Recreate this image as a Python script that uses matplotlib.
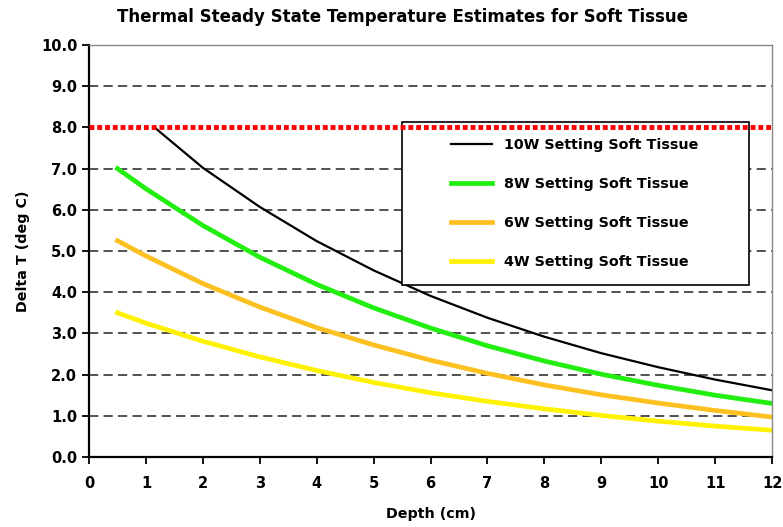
import matplotlib
matplotlib.use("Agg")
import matplotlib.pyplot as plt
from matplotlib.patches import Rectangle

plt.rcParams['font.family'] = ['DejaVu Sans']
plt.rcParams['font.weight'] = 'bold'

# values
depth = [0.5, 1, 2, 3, 4, 5, 6, 7, 8, 9, 10, 11, 12]
depth_10w = [1.15, 2, 3, 4, 5, 6, 7, 8, 9, 10, 11, 12]
temp_10w = [8.0, 7.02, 6.07, 5.24, 4.53, 3.91, 3.38, 2.92, 2.52, 2.18, 1.88, 1.62]
temp_8w = [7.0, 6.51, 5.62, 4.85, 4.19, 3.62, 3.13, 2.70, 2.33, 2.01, 1.74, 1.50, 1.30]
temp_6w = [5.25, 4.88, 4.21, 3.64, 3.14, 2.72, 2.35, 2.03, 1.75, 1.51, 1.31, 1.13, 0.97]
temp_4w = [3.5, 3.25, 2.81, 2.43, 2.10, 1.81, 1.56, 1.35, 1.17, 1.01, 0.87, 0.75, 0.65]
limit = 8.0

x_ticks = list(range(0, 13))
y_ticks = [0, 1, 2, 3, 4, 5, 6, 7, 8, 9, 10]

fig = plt.figure(figsize=(7.83, 5.27), dpi=100)
ax = fig.add_axes([0.1137, 0.1328, 0.8723, 0.7818])

# dashed grid
for yv in y_ticks[1:-1]:
    if yv == limit:
        continue
    ax.axhline(yv, color='#222222', lw=1.1, linestyle=(0, (6, 3.5)), zorder=1)

ax.plot(depth_10w, temp_10w, color='black', lw=1.6, zorder=2, label='10W Setting Soft Tissue')
ax.plot(depth, temp_8w, color='#22ee10', lw=3.4, zorder=2, label='8W Setting Soft Tissue')
ax.plot(depth, temp_6w, color='#fcc020', lw=3.4, zorder=2, label='6W Setting Soft Tissue')
ax.plot(depth, temp_4w, color='#fff200', lw=3.4, zorder=2, label='4W Setting Soft Tissue')

# legend box sits behind the red limit line
box = Rectangle((0.458, 0.417), 0.508, 0.396, transform=ax.transAxes,
                facecolor='white', edgecolor='black', lw=1.2, zorder=3)
ax.add_patch(box)
leg = ax.legend(loc='center', bbox_to_anchor=(0.711, 0.615), frameon=False,
                fontsize=10.3, handlelength=2.9, labelspacing=1.75, handletextpad=0.8)
leg.set_zorder(4)

ax.axhline(limit, color='#ff0000', lw=3.5, linestyle=(0, (1, 0.6)), zorder=5)

ax.set_xlim(0, 12)
ax.set_ylim(0, 10)
ax.set_xticks(x_ticks)
ax.set_yticks(y_ticks)
ax.set_yticklabels(['%.1f' % v for v in y_ticks])
ax.tick_params(axis='both', labelsize=10.5, length=5, width=1.3, color='black')
ax.tick_params(axis='x', pad=9)

for s in ['left', 'bottom']:
    ax.spines[s].set_linewidth(1.6)
    ax.spines[s].set_color('black')
for s in ['top', 'right']:
    ax.spines[s].set_linewidth(1.0)
    ax.spines[s].set_color('#888888')

fig.text(0.514, 0.967, 'Thermal Steady State Temperature Estimates for Soft Tissue',
         fontsize=12, fontweight='bold', ha='center', va='center')
ax.set_xlabel('Depth (cm)', fontsize=10.3, fontweight='bold', labelpad=11)
ax.set_ylabel('Delta T (deg C)', fontsize=10.3, fontweight='bold', labelpad=8)

fig.savefig('out.png', dpi=100)
